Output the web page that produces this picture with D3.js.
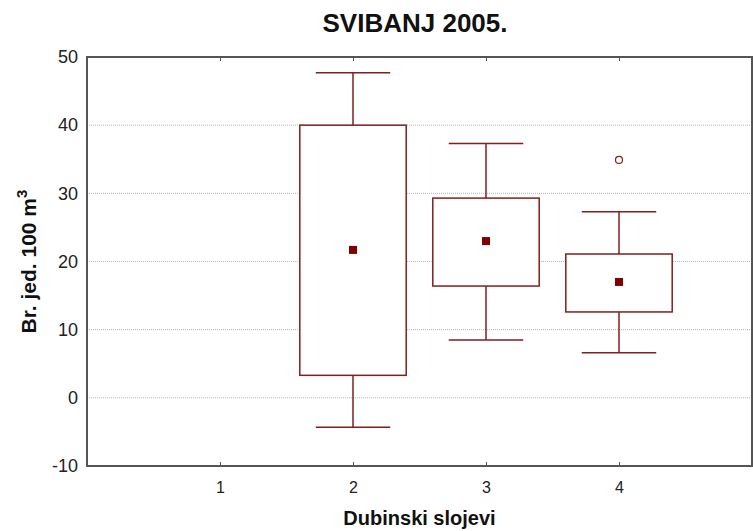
<!DOCTYPE html>
<html>
<head>
<meta charset="utf-8">
<script src="https://cdn.jsdelivr.net/npm/d3@7"></script>
<style>
  body { margin: 0; background: #fff; }
  text { font-family: "Liberation Sans", Arial, sans-serif; }
</style>
</head>
<body>
<svg class="boxChart" width="753" height="531"></svg>
<script>
// depth layers and box statistics
const layers = [2, 3, 4];
const whiskerHigh = [47.7, 37.3, 27.3];
const boxHigh = [40.0, 29.3, 21.1];
const means = [21.7, 23.0, 17.0];
const boxLow = [3.3, 16.4, 12.6];
const whiskerLow = [-4.3, 8.5, 6.6];
const outliers = [{ layer: 4, value: 34.9 }];
const xTicks = [1, 2, 3, 4];
const yTicks = [-10, 0, 10, 20, 30, 40, 50];

const svg = d3.select(".boxChart");
const margin = { top: 57, right: 1, bottom: 65, left: 87 };
const width = +svg.attr("width");
const height = +svg.attr("height");
const plotW = width - margin.left - margin.right;
const plotH = height - margin.top - margin.bottom;
const boxColor = "#7f1f1f";

const g = svg.append("g")
    .attr("transform", `translate(${margin.left}, ${margin.top})`);

const x = d3.scaleLinear().domain([0, 5]).range([0, plotW]);
const y = d3.scaleLinear().domain([-10, 50]).range([plotH, 0]);

// dotted grid lines
g.selectAll(".grid")
    .data(yTicks.filter(t => t > -10 && t < 50))
    .enter().append("line")
    .attr("x1", 0).attr("x2", plotW)
    .attr("y1", d => y(d)).attr("y2", d => y(d))
    .attr("stroke", "#b5b5b5")
    .attr("stroke-width", 1)
    .attr("stroke-dasharray", "1,1");

// axes with labels
const yAxis = g.append("g")
    .call(d3.axisLeft(y).tickValues(yTicks).tickSize(0).tickPadding(9).tickFormat(d => String(d)));
yAxis.select(".domain").remove();
yAxis.selectAll("text").attr("font-size", 18).attr("fill", "#222");

const xAxis = g.append("g")
    .attr("transform", `translate(0, ${plotH})`)
    .call(d3.axisBottom(x).tickValues(xTicks).tickSize(-4).tickPadding(16).tickFormat(d => String(d)));
xAxis.select(".domain").remove();
xAxis.selectAll("line").attr("stroke", "#555");
xAxis.selectAll("text").attr("font-size", 16).attr("fill", "#222");

const xTop = g.append("g")
    .call(d3.axisTop(x).tickValues(xTicks).tickSize(-4).tickFormat(""));
xTop.select(".domain").remove();
xTop.selectAll("line").attr("stroke", "#555");

// frame
g.append("rect")
    .attr("width", plotW).attr("height", plotH)
    .attr("fill", "none")
    .attr("stroke", "#555")
    .attr("stroke-width", 2);

const boxW = x(0.8) - x(0);
const capW = x(0.56) - x(0);

layers.forEach((layer, i) => {
    const cx = x(layer);
    const bg = g.append("g");
    // whiskers
    bg.append("line")
        .attr("x1", cx).attr("x2", cx)
        .attr("y1", y(whiskerHigh[i])).attr("y2", y(boxHigh[i]))
        .attr("stroke", boxColor).attr("stroke-width", 1.5);
    bg.append("line")
        .attr("x1", cx).attr("x2", cx)
        .attr("y1", y(boxLow[i])).attr("y2", y(whiskerLow[i]))
        .attr("stroke", boxColor).attr("stroke-width", 1.5);
    [whiskerHigh[i], whiskerLow[i]].forEach(v => {
        bg.append("line")
            .attr("x1", cx - capW / 2).attr("x2", cx + capW / 2)
            .attr("y1", y(v)).attr("y2", y(v))
            .attr("stroke", boxColor).attr("stroke-width", 1.5);
    });
    // box
    bg.append("rect")
        .attr("x", cx - boxW / 2)
        .attr("y", y(boxHigh[i]))
        .attr("width", boxW)
        .attr("height", y(boxLow[i]) - y(boxHigh[i]))
        .attr("fill", "#fff")
        .attr("stroke", boxColor).attr("stroke-width", 1.5);
    // mean marker
    bg.append("rect")
        .attr("x", cx - 4).attr("y", y(means[i]) - 4)
        .attr("width", 8).attr("height", 8)
        .attr("fill", "#800000");
});

g.selectAll(".outlier")
    .data(outliers)
    .enter().append("circle")
    .attr("cx", d => x(d.layer))
    .attr("cy", d => y(d.value))
    .attr("r", 3.5)
    .attr("fill", "#fff")
    .attr("stroke", boxColor)
    .attr("stroke-width", 1.2);

// titles
svg.append("text")
    .attr("x", 415).attr("y", 32)
    .attr("text-anchor", "middle")
    .attr("font-size", 26).attr("font-weight", "bold")
    .attr("fill", "#111")
    .text("SVIBANJ 2005.");

svg.append("text")
    .attr("x", margin.left + plotW / 2).attr("y", 525)
    .attr("text-anchor", "middle")
    .attr("font-size", 20).attr("font-weight", "bold")
    .attr("fill", "#111")
    .text("Dubinski slojevi");

const yt = svg.append("text")
    .attr("transform", `translate(36, ${margin.top + plotH / 2}) rotate(-90)`)
    .attr("text-anchor", "middle")
    .attr("font-size", 21).attr("font-weight", "bold")
    .attr("fill", "#111");
yt.append("tspan").text("Br. jed. 100 m");
yt.append("tspan").attr("dy", -9).attr("font-size", 15).text("3");
</script>
</body>
</html>
